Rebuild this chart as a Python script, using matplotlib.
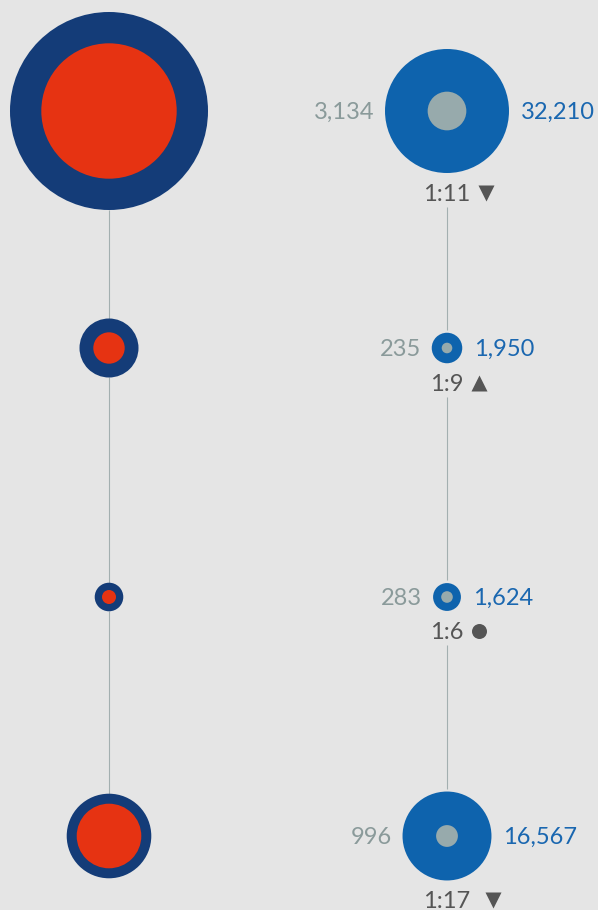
import matplotlib
matplotlib.use("Agg")
import matplotlib.pyplot as plt
from matplotlib.patches import Circle
import numpy as np

# ---- data ----
left_outer = [82130, 7290, 1710, 14990]
left_inner = [38400, 2065, 411, 8740]
right_outer = [32210, 1950, 1624, 16567]
right_inner = [3134, 235, 283, 996]
right_outer_labels = ["32,210", "1,950", "1,624", "16,567"]
right_inner_labels = ["3,134", "235", "283", "996"]
ratio_labels = ["1:11", "1:9", "1:6", "1:17"]
trends = ["down", "up", "flat", "down"]

# ---- style / layout ----
W, H = 598, 910
BG = "#e5e5e5"
DARK_BLUE = "#143c78"
RED = "#e63312"
BLUE = "#0e63ad"
INNER_GRAY = "#97aaac"
LINE = "#a3afb0"
GRAY_TXT = "#8a9a9a"
BLUE_TXT = "#1a67b0"
RATIO_TXT = "#555555"
FONT = ["Lato", "DejaVu Sans"]
FS = 17
row_y = [111, 348, 597, 836]
col_x = [109, 447]
K = 62 / np.sqrt(32210)  # px per sqrt(unit) - area-proportional
marker_extra = [0, 0, 0, 7]

def rad(v):
    return K * np.sqrt(v)

fig = plt.figure(figsize=(W / 100, H / 100), dpi=100, facecolor=BG)
ax = fig.add_axes([0, 0, 1, 1])
ax.set_xlim(0, W)
ax.set_ylim(H, 0)
ax.set_facecolor(BG)
ax.axis("off")

# left column
lx = col_x[0]
for i in range(len(row_y) - 1):
    y0 = row_y[i] + rad(left_outer[i])
    y1 = row_y[i + 1] - rad(left_outer[i + 1])
    ax.plot([lx, lx], [y0, y1], color=LINE, lw=0.8, zorder=1, solid_capstyle="butt")
for y, vo, vi in zip(row_y, left_outer, left_inner):
    ax.add_patch(Circle((lx, y), rad(vo), color=DARK_BLUE, lw=0, zorder=2))
    ax.add_patch(Circle((lx, y), rad(vi), color=RED, lw=0, zorder=3))

# right column
rx = col_x[1]
fig.canvas.draw()
renderer = fig.canvas.get_renderer()
text_bottoms = []
mk_map = {"down": "v", "up": "^", "flat": "o"}
for i, (y, vo, vi) in enumerate(zip(row_y, right_outer, right_inner)):
    ro = rad(vo)
    ax.add_patch(Circle((rx, y), ro, color=BLUE, lw=0, zorder=2))
    ax.add_patch(Circle((rx, y), rad(vi), color=INNER_GRAY, lw=0, zorder=3))
    ax.text(rx - ro - 11, y + 8.3, right_inner_labels[i], ha="right", va="baseline",
            fontsize=FS, color=GRAY_TXT, family=FONT)
    ax.text(rx + ro + 12, y + 8.3, right_outer_labels[i], ha="left", va="baseline",
            fontsize=FS, color=BLUE_TXT, family=FONT)
    base = y + ro + 11 + 16.8
    t = ax.text(rx, base, ratio_labels[i], ha="center", va="baseline",
                fontsize=FS, color=RATIO_TXT, family=FONT)
    bb = t.get_window_extent(renderer)
    mx = bb.x1 + 15 + marker_extra[i]
    m = mk_map[trends[i]]
    ms = 11.0 if m != "o" else 10.8
    ax.plot([mx], [base - 8], marker=m, ms=ms, color=RATIO_TXT, mec="none", zorder=4)
    text_bottoms.append(base)

for i in range(len(row_y) - 1):
    y0 = text_bottoms[i] + 6
    y1 = row_y[i + 1] - rad(right_outer[i + 1]) - 3
    ax.plot([rx, rx], [y0, y1], color=LINE, lw=0.8, zorder=1, solid_capstyle="butt")

fig.savefig("out.png", dpi=100, facecolor=BG)
